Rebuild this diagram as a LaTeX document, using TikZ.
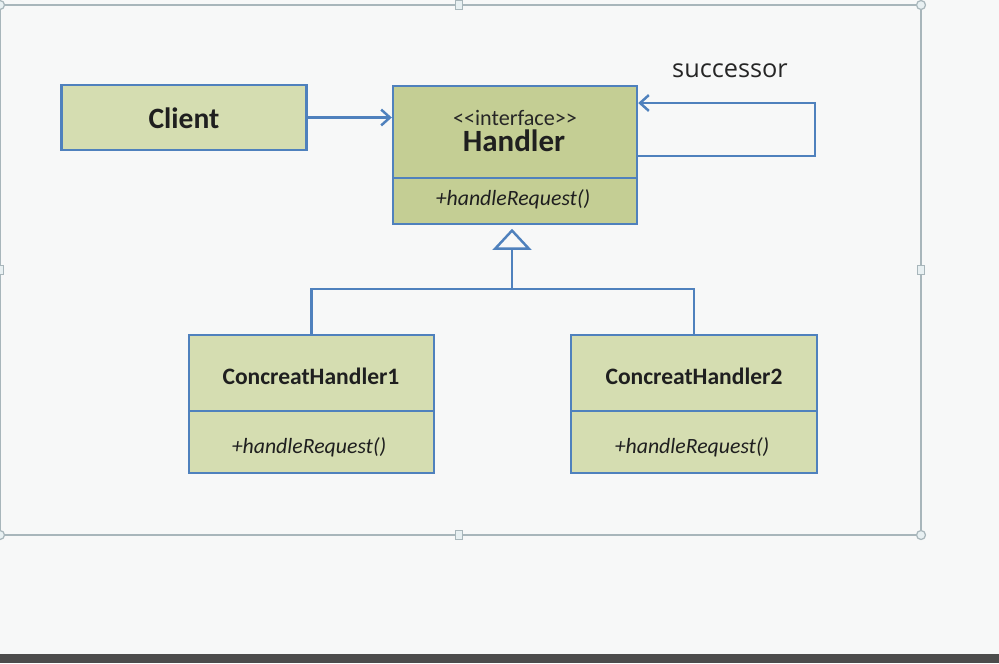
\documentclass[tikz,border=0pt]{standalone}
\usepackage{fontspec}
\setmainfont{Carlito}
\newfontfamily\succfont{Open Sans}
\usetikzlibrary{arrows.meta}
\definecolor{umlblue}{RGB}{79,129,189}
\definecolor{clientgreen}{RGB}{213,221,177}
\definecolor{handlergreen}{RGB}{196,206,148}
\definecolor{framegray}{RGB}{168,182,187}
\definecolor{handlefill}{RGB}{232,240,242}
\definecolor{bggray}{RGB}{247,248,248}
\definecolor{bargray}{RGB}{76,76,76}

\begin{document}
\begin{tikzpicture}
        [x=0.02cm,y=-0.02cm]
            \tikzstyle{classbox}=[rectangle, draw=umlblue, line width=1.4pt,
        fill=clientgreen, minimum width=4.9cm, inner sep=0pt]
            \tikzstyle{titletext}=[text=black!88, inner sep=0pt, font=\fontsize{13.4}{15}\selectfont\bfseries]
            \tikzstyle{methodtext}=[text=black!88, inner sep=0pt, font=\fontsize{12.4}{14}\selectfont\itshape]
            \tikzstyle{conn}=[draw=umlblue, line width=1.4pt]
        %-----background and selection frame
         \useasboundingbox (0,0) rectangle (999,663);
         \fill[bggray] (0,0) rectangle (999,663);
         \fill[bargray] (0,654) rectangle (999,663);
         \draw[framegray, line width=0.9pt] (0,5) rectangle (921,535);
         \foreach \hx/\hy in {0/5, 921/5, 0/535, 921/535}
         \draw[framegray, fill=handlefill, line width=0.7pt] (\hx,\hy) circle (4.5);
         \foreach \hx/\hy in {459/5, 921/270, 459/535, 0/270}
         \draw[framegray, fill=handlefill, line width=0.7pt] (\hx-3.5,\hy-4.5) rectangle (\hx+3.5,\hy+4.5);

        %-----classes
         \node[classbox, minimum height=1.3cm] (Client) at (184,117.5) {};
         \node[titletext, font=\fontsize{16.8}{18}\selectfont\bfseries] (ClientName) at (184,118) {Client};

         \node[classbox, fill=handlergreen, minimum width=4.88cm, minimum height=1.84cm] (Htop) at (515,132) {};
         \node[classbox, fill=handlergreen, minimum width=4.88cm, minimum height=0.92cm] (Hbot) at (515,201) {};
         \node[text=black!85, inner sep=0pt, font=\fontsize{12.6}{14}\selectfont] (Hstereo) at (515,118) {<{}<interface>{}>};
         \node[titletext, font=\fontsize{17.6}{19}\selectfont\bfseries] (Hname) at (514,141) {Handler};
         \node[methodtext] (Hmethod) at (513,199) {+handleRequest()};

         \node[classbox, minimum height=1.52cm] (CAtop) at (311.5,373) {};
         \node[classbox, minimum height=1.24cm] (CAbot) at (311.5,442) {};
         \node[titletext] (CAname) at (311,376) {ConcreatHandler1};
         \node[methodtext] (CAmethod) at (309,447) {+handleRequest()};

         \node[classbox, minimum width=4.92cm, minimum height=1.52cm] (CBtop) at (694,373) {};
         \node[classbox, minimum width=4.92cm, minimum height=1.24cm] (CBbot) at (694,442) {};
         \node[titletext] (CBname) at (694,376) {ConcreatHandler2};
         \node[methodtext] (CBmethod) at (692,447) {+handleRequest()};

        %-----connectors
         \coordinate (loopB) at (815,156);
         \coordinate (loopT) at (815,103);
         \coordinate (fork) at (512,289);
         \node[text=black!85, font=\succfont\fontsize{14.4}{16}\selectfont] (succ) at (730,71) {successor};

         \draw[conn, -{Straight Barb[length=5pt,width=9pt]}] (Client.east) -- (Htop.west |- Client.east);
         \draw[conn, -{Straight Barb[length=5pt,width=9pt]}] (Htop.east |- loopB) -- (loopB) -- (loopT) -- (Htop.east |- loopT);
         \draw[conn, -{Triangle[open,length=12pt,width=22pt]}, shorten >=2pt] (fork) -- (fork |- Hbot.south);
         \draw[conn] (CAtop.north) |- (fork) -| (CBtop.north);

        \end{tikzpicture}
\end{document}
